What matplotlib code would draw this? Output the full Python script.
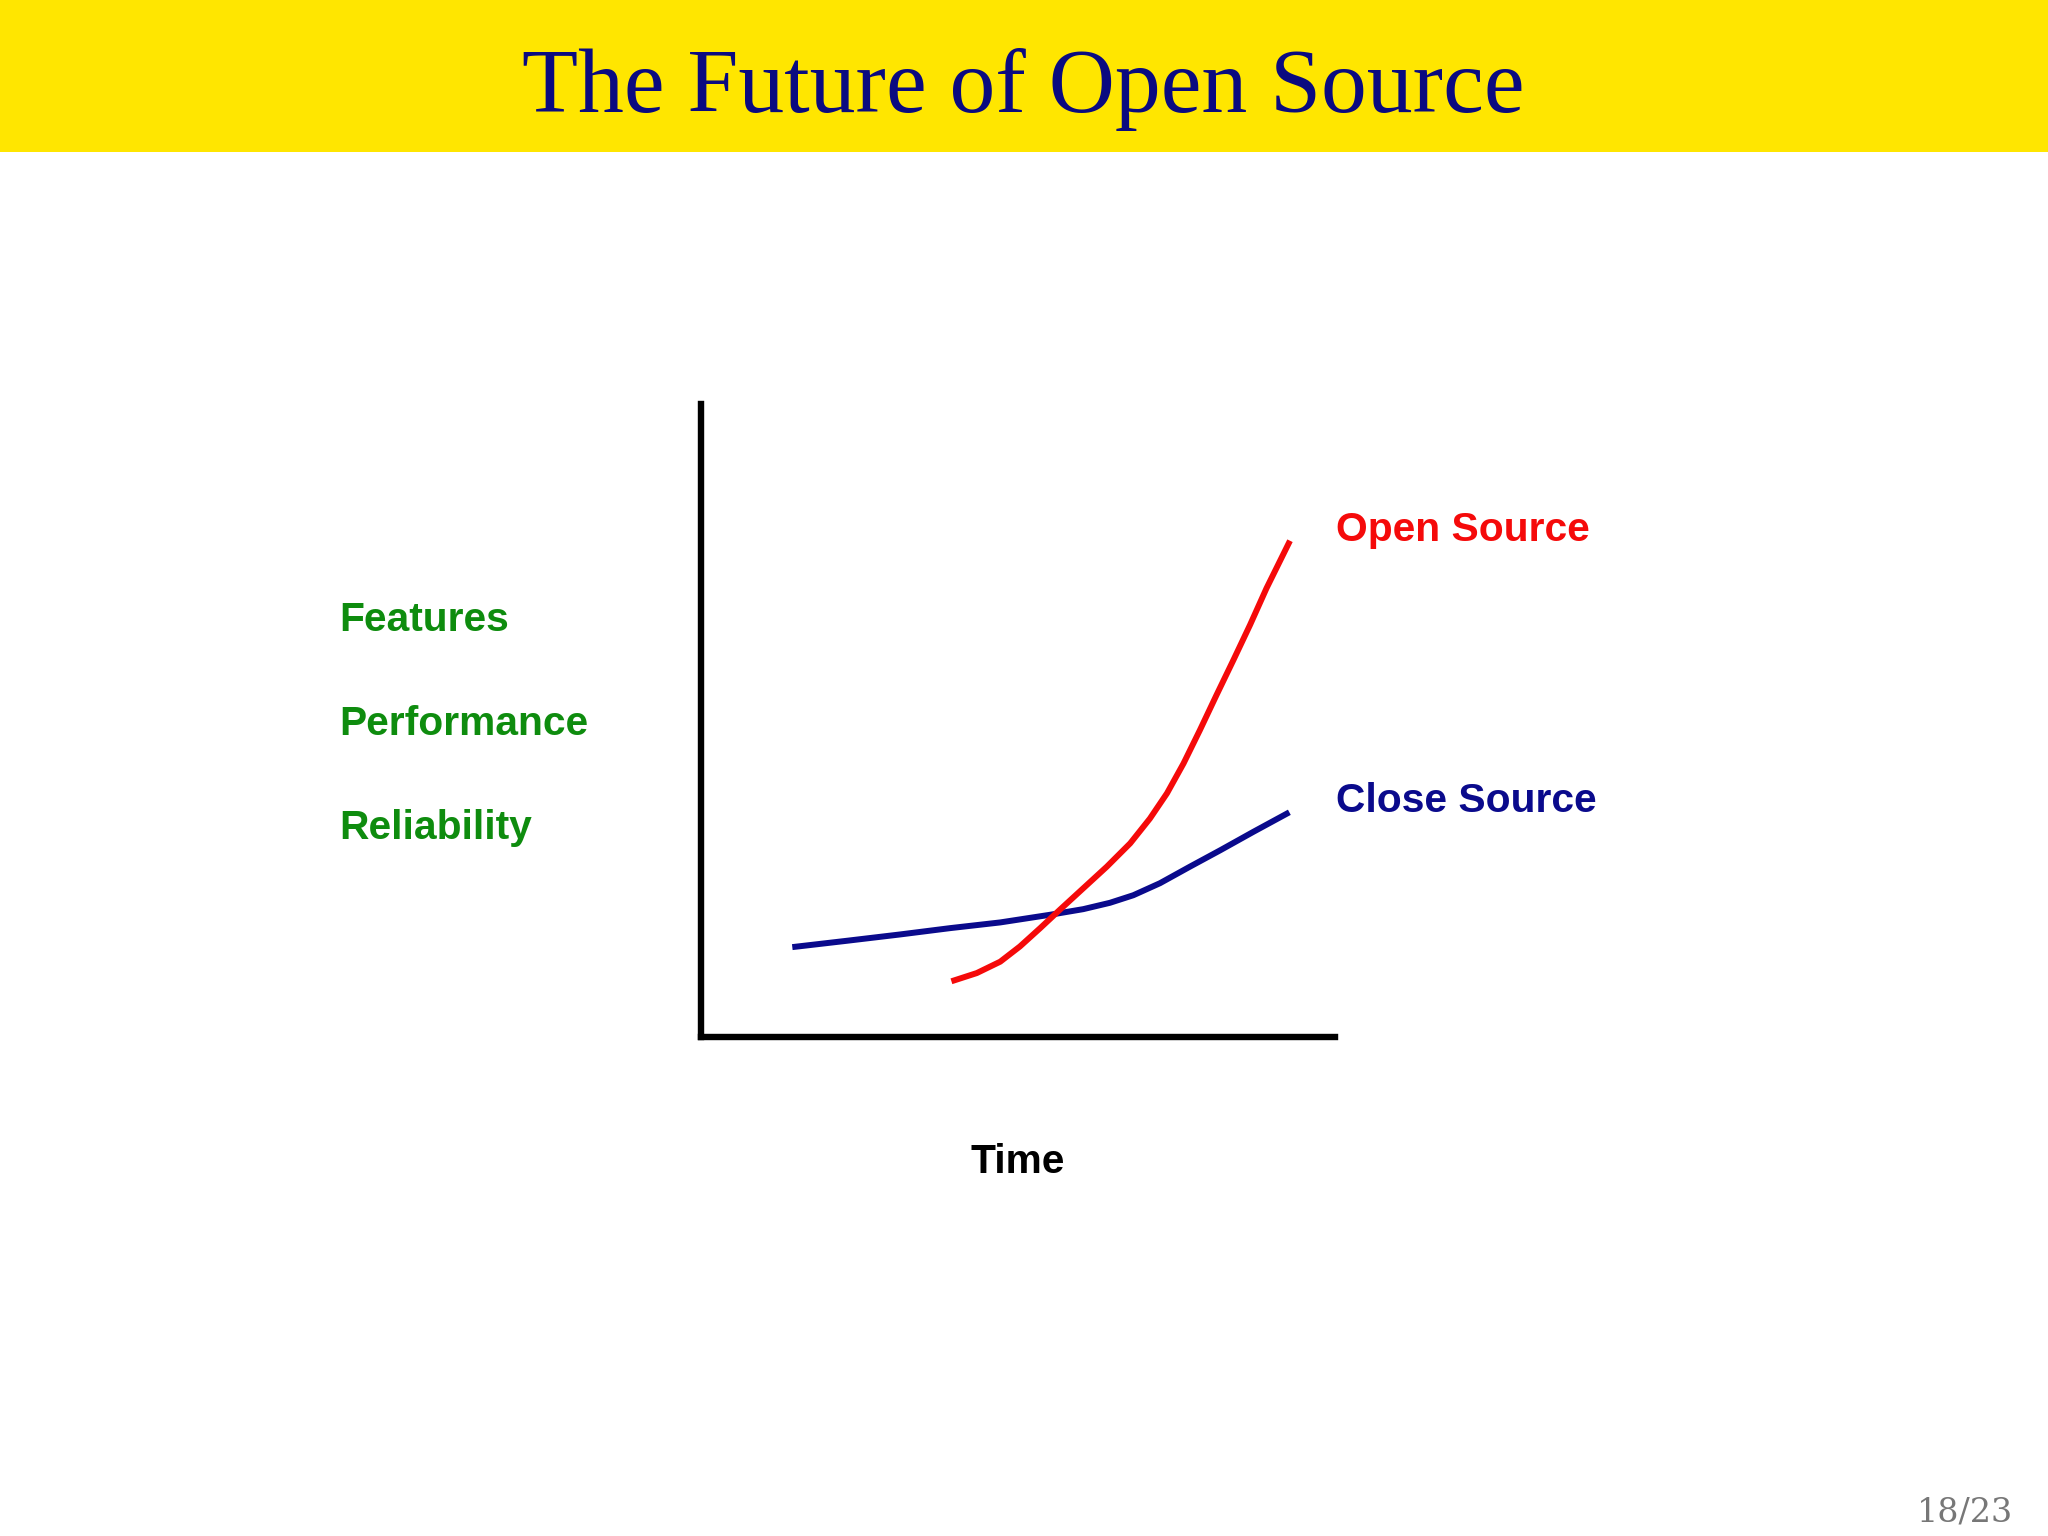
import matplotlib
matplotlib.use("Agg")
import matplotlib.pyplot as plt
from matplotlib.patches import Rectangle

# ---- data ----
closed_time = [14.4, 23.0, 31.4, 39.3, 47.2, 55.0, 60.3, 64.5, 68.2, 72.4,
               77.1, 81.9, 87.1, 92.8]
closed_value = [14.2, 15.2, 16.2, 17.2, 18.1, 19.3, 20.2, 21.2, 22.4, 24.3,
                26.9, 29.5, 32.4, 35.5]
open_time = [39.5, 43.5, 47.2, 50.3, 53.5, 56.6, 60.3, 64.0, 67.7, 70.8,
             73.5, 76.1, 78.7, 81.3, 84.0, 86.6, 89.2, 92.9]
open_value = [8.8, 10.1, 11.9, 14.3, 17.2, 20.1, 23.5, 26.9, 30.6, 34.5,
              38.5, 43.2, 48.5, 54.0, 59.6, 65.1, 70.9, 78.4]
series_labels = ["Open Source", "Close Source"]
y_labels = ["Features", "Performance", "Reliability"]
x_label = "Time"
title = "The Future of Open Source"
page = "18/23"

W, H = 2048, 1536
fig = plt.figure(figsize=(W / 100, H / 100), dpi=100)
fig.patch.set_facecolor("white")

def fx(px):
    return px / W

def fy(py):
    return 1 - py / H

# yellow title band
fig.patches.append(Rectangle((0, fy(152)), 1, 152 / H, transform=fig.transFigure,
                             facecolor="#FFE600", edgecolor="none", zorder=0))
fig.text(fx(1023), fy(112), title, ha="center", va="baseline",
         family="Liberation Serif", fontsize=66, color="#0A0A80")

# chart axes
ax = fig.add_axes([fx(701), fy(1037), 634 / W, 633 / H])
ax.set_xlim(0, 100)
ax.set_ylim(0, 100)
ax.set_xticks([])
ax.set_yticks([])
for s in ["top", "right"]:
    ax.spines[s].set_visible(False)
for s in ["left", "bottom"]:
    ax.spines[s].set_linewidth(4.6)
    ax.spines[s].set_color("black")
    ax.spines[s].set_capstyle("projecting")
ax.patch.set_alpha(0)

red = "#F50A0A"
blue = "#0A0A8C"
ax.plot(closed_time, closed_value, color=blue, lw=4.3, solid_capstyle="butt",
        solid_joinstyle="round")
ax.plot(open_time, open_value, color=red, lw=4.3, solid_capstyle="butt",
        solid_joinstyle="round")

lab_font = dict(family="Liberation Sans", fontweight="bold", fontsize=29.3)
ax.text(open_time[-1] + 7.3, open_value[-1], series_labels[0], color=red,
        ha="left", va="baseline", clip_on=False, **lab_font)
ax.text(closed_time[-1] + 7.3, closed_value[-1], series_labels[1], color=blue,
        ha="left", va="baseline", clip_on=False, **lab_font)

green = "#0E8C0E"
for i, lab in enumerate(y_labels):
    fig.text(fx(339), fy(631 + i * 104), lab, color=green, ha="left",
             va="baseline", **lab_font)

fig.text(fx(1018), fy(1173), x_label, color="black", ha="center",
         va="baseline", **lab_font)

fig.text(fx(2013), fy(1522), page, color="#777777", ha="right", va="baseline",
         family="DejaVu Serif", fontsize=24)

fig.savefig("out.png", dpi=100)
